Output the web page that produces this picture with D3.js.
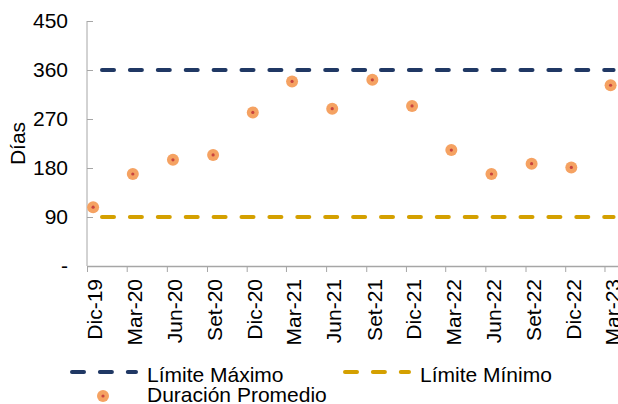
<!DOCTYPE html>
<html>
<head>
<meta charset="utf-8">
<script src="https://cdn.jsdelivr.net/npm/d3@7"></script>
<style>
  body { margin: 0; background: #fff; }
  svg { display: block; font-family: "Liberation Sans", Arial, sans-serif; }
  .axis path, .axis line { stroke: #a6a6a6; }
</style>
</head>
<body>
<div id="chart"></div>
<script>
// Quarters shown on the x axis
const periods = ["Dic-19", "Mar-20", "Jun-20", "Set-20", "Dic-20", "Mar-21", "Jun-21",
                 "Set-21", "Dic-21", "Mar-22", "Jun-22", "Set-22", "Dic-22", "Mar-23"];
// first month of each quarter label
const periodDates = periods.map((p, i) => new Date(2019, 11 + 3 * i, 1));
// Duración promedio (días)
const duracion = [108, 169, 195, 204, 282, 339, 289, 342, 294, 213, 169, 188, 181, 332];
const limiteMaximo = 360;
const limiteMinimo = 90;
const yTicks = [0, 90, 180, 270, 360, 450];

const width = 618, height = 404;
const margin = { top: 21, right: 0, bottom: 138, left: 87 };
const fontSize = 21;

const svg = d3.select("#chart").append("svg")
    .attr("width", width)
    .attr("height", height);

const x = d3.scaleTime()
    .domain([new Date(2019, 11, 1), new Date(2023, 3, 1)])
    .range([margin.left, width - margin.right]);

const y = d3.scaleLinear()
    .domain([0, 450])
    .range([height - margin.bottom, margin.top]);

// points sit mid-month
const pointX = i => x(d3.timeDay.offset(periodDates[i], 14));

// y axis
const yAxis = svg.append("g")
    .attr("class", "axis")
    .attr("transform", "translate(" + margin.left + ",0)")
    .call(d3.axisRight(y).tickValues(yTicks).tickSize(6).tickFormat(""));
yAxis.select(".domain").attr("d", "M0," + y(0) + "V" + y(450));

svg.append("g").selectAll("text")
    .data(yTicks)
    .join("text")
    .attr("x", 68)
    .attr("y", d => y(d))
    .attr("dy", "0.35em")
    .attr("text-anchor", "end")
    .attr("font-size", fontSize)
    .attr("fill", "#000")
    .text(d => d === 0 ? "-" : d);

svg.append("text")
    .attr("transform", "translate(18," + (y(0) + y(450)) / 2 + ") rotate(-90)")
    .attr("dy", "0.35em")
    .attr("text-anchor", "middle")
    .attr("font-size", fontSize)
    .text("Días");

// x axis
const xAxis = svg.append("g")
    .attr("class", "axis")
    .attr("transform", "translate(0," + y(0) + ")")
    .call(d3.axisBottom(x).tickValues(periodDates).tickSize(6).tickSizeOuter(0).tickFormat(""));
xAxis.select(".domain").attr("stroke-width", 1.5);

svg.append("g").selectAll("text")
    .data(periods)
    .join("text")
    .attr("transform", (d, i) => "translate(" + (x(periodDates[i]) + 8) + "," + (y(0) + 13) + ") rotate(-90)")
    .attr("dy", "0.35em")
    .attr("text-anchor", "end")
    .attr("font-size", fontSize)
    .text(d => d);

// limit lines
const dash = "12 15.9";
const limits = [
  { value: limiteMaximo, color: "#203864" },
  { value: limiteMinimo, color: "#d4a000" }
];
svg.append("g").selectAll("line")
    .data(limits)
    .join("line")
    .attr("x1", pointX(0))
    .attr("x2", pointX(periods.length - 1) + 3)
    .attr("y1", d => y(d.value))
    .attr("y2", d => y(d.value))
    .attr("stroke", d => d.color)
    .attr("stroke-width", 4)
    .attr("stroke-linecap", "round")
    .attr("stroke-dasharray", dash)
    .attr("stroke-dashoffset", 27.9 - (102 - pointX(0)));

// points
const pts = svg.append("g").selectAll("g")
    .data(duracion)
    .join("g")
    .attr("transform", (d, i) => "translate(" + pointX(i) + "," + y(d) + ")");
pts.append("circle").attr("r", 6).attr("fill", "#f5a262");
pts.append("circle").attr("r", 1.6).attr("fill", "#c8443f");

// legend
const legend = svg.append("g").attr("font-size", fontSize);
const legendLines = [
  { label: "Límite Máximo", color: "#203864", x: 72, y: 372 },
  { label: "Límite Mínimo", color: "#d4a000", x: 345, y: 372 }
];
legendLines.forEach(d => {
  legend.append("line")
      .attr("x1", d.x).attr("x2", d.x + 64)
      .attr("y1", d.y).attr("y2", d.y)
      .attr("stroke", d.color)
      .attr("stroke-width", 4)
      .attr("stroke-linecap", "round")
      .attr("stroke-dasharray", dash);
  legend.append("text")
      .attr("x", d.x + 75)
      .attr("y", 382)
      .text(d.label);
});
legend.append("circle").attr("cx", 103).attr("cy", 396).attr("r", 6).attr("fill", "#f5a262");
legend.append("circle").attr("cx", 103).attr("cy", 396).attr("r", 1.6).attr("fill", "#c8443f");
legend.append("text")
    .attr("x", 147)
    .attr("y", 402)
    .text("Duración Promedio");
</script>
</body>
</html>
